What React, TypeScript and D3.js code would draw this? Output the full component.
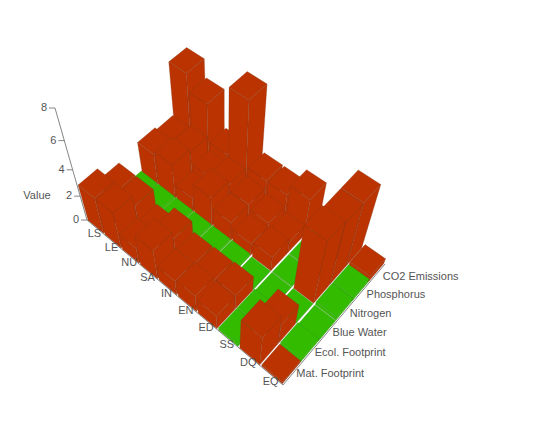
import React from 'react';
import * as d3 from 'd3';

const xCats = ['LS','LE','NU','SA','IN','EN','ED','SS','DQ','EQ'];
const yCats = ['Mat. Footprint','Ecol. Footprint','Blue Water','Nitrogen','Phosphorus','CO2 Emissions'];
const zTicks = [0,2,4,6,8];
const rowLS = [2.9,2.1,0.2,2.4,2.2,5.8];
const rowLE = [2.9,2.1,0.2,2.65,2.4,4.65];
const rowNU = [1.3,1.0,0.2,1.1,1.5,2.0];
const rowSA = [2.45,1.9,0.2,2.3,2.0,6.65];
const rowIN = [1.25,1.1,0.2,1.5,1.55,2.1];
const rowEN = [1.45,1.15,0.2,1.0,1.25,2.1];
const rowED = [1.2,1.25,0.06,1.2,0.9,2.9];
const rowSS = [0.25,0.25,0.06,0.06,0.06,0.06];
const rowDQ = [2.7,1.8,0.06,5.2,5.0,5.0];
const rowEQ = [0.2,0.3,0.06,0.3,0.3,0.45];
const values = [rowLS,rowLE,rowNU,rowSA,rowIN,rowEN,rowED,rowSS,rowDQ,rowEQ];
const classRows = ['rrgrrr','rrgrrr','rrgrrr','rrgrrr','rrgrrr','rrgrrr','rrgrrr','gggggg','rrgrrr','rggggr'];

const RED = '#bb3300', GREEN = '#33bb00';
const W=533,H=447;
const P00:[number,number]=[87,220],P10:[number,number]=[283,385],P11:[number,number]=[385,264],P01:[number,number]=[191,129];
const AX8:[number,number]=[55,108];
const NAD:[number,number]=[225,703];

function sq2quad(){
  const [x0,y0]=P00,[x1,y1]=P10,[x2,y2]=P11,[x3,y3]=P01;
  const dx1=x1-x2,dx2=x3-x2,dx3=x0-x1+x2-x3,dy1=y1-y2,dy2=y3-y2,dy3=y0-y1+y2-y3;
  const den=dx1*dy2-dx2*dy1;
  const g=(dx3*dy2-dx2*dy3)/den,h=(dx1*dy3-dx3*dy1)/den;
  return {a:x1-x0+g*x1,b:x3-x0+h*x3,c:x0,d:y1-y0+g*y1,e:y3-y0+h*y3,f:y0,g,h};
}
const M=sq2quad();
const alpha=(P00[0]-AX8[0])/(NAD[0]-AX8[0]);
const uScale=d3.scaleLinear().domain([0,xCats.length]).range([0,1]);
const vScale=d3.scaleLinear().domain([0,yCats.length]).range([0,1]);
const hScale=d3.scaleLinear().domain([0,8]).range([0,-alpha]);
function proj(u:number,v:number,z:number):[number,number]{
  const s=uScale(u),t=vScale(v),k=hScale(z);
  const X=M.a*s+M.b*t+M.c+k*NAD[0],Y=M.d*s+M.e*t+M.f+k*NAD[1],Q=M.g*s+M.h*t+1+k;
  return [X/Q,Y/Q];
}
const poly=(pts:[number,number][])=>d3.line()(pts)+'Z';
const GAP_U=0.045, GAP_V=0.02;
const bars:any[]=[];
for(let u=0;u<xCats.length;u++)for(let v=yCats.length-1;v>=0;v--)bars.push({u,v,z:values[u][v],g:classRows[u][v]==='g'});

export default function App(){
  return <svg width={W} height={H} style={{position:'absolute',left:0,top:0,fontFamily:'"Liberation Sans",Arial,sans-serif'}}>
    <line x1={proj(0,0,0)[0]} y1={proj(0,0,0)[1]} x2={proj(0,0,8)[0]} y2={proj(0,0,8)[1]} stroke="#666" strokeWidth={0.8}/>
    {zTicks.map(t=>{const p=proj(0,0,t);return <g key={t}><line x1={p[0]-6} x2={p[0]} y1={p[1]} y2={p[1]} stroke="#666" strokeWidth={0.8}/>
      <text x={p[0]-8} y={p[1]+3} textAnchor="end" fontSize={11} fill="#555">{t}</text></g>})}
    <text x={37} y={199} textAnchor="middle" fontSize={11} fill="#555">Value</text>
    <path d={poly([proj(0,0,0),proj(10,0,0),proj(10,6,0)]).replace('Z','')} fill="none" stroke="#666" strokeWidth={0.8}/>
    {bars.map(({u,v,z,g})=>{
      const u0=u+GAP_U,u1=u+1-GAP_U,v0=v+GAP_V,v1=v+1-GAP_V;
      const c=g?GREEN:RED;
      const st=g?{stroke:'#2a8f10',strokeWidth:0.5,strokeOpacity:0.6}:{stroke:'#7a3a20',strokeWidth:0.5,strokeOpacity:0.55};
      return <g key={u+'-'+v} fill={c} {...st}>
        <path d={poly([proj(u0,v0,0),proj(u1,v0,0),proj(u1,v0,z),proj(u0,v0,z)])}/>
        <path d={poly([proj(u1,v0,0),proj(u1,v1,0),proj(u1,v1,z),proj(u1,v0,z)])}/>
        <path d={poly([proj(u0,v0,z),proj(u1,v0,z),proj(u1,v1,z),proj(u0,v1,z)])}/>
      </g>})}
    {xCats.map((c,i)=>{const p=proj(i+.5,0,0);return <text key={c} x={p[0]-1} y={p[1]+9.5} textAnchor="middle" fontSize={11} fill="#555">{c}</text>})}
    {yCats.map((c,i)=>{const p=proj(10,i+.5,0);return <text key={c} x={p[0]+4+i*0.3} y={p[1]+3+i*0.8} fontSize={11} fill="#555">{c}</text>})}
  </svg>;
}
